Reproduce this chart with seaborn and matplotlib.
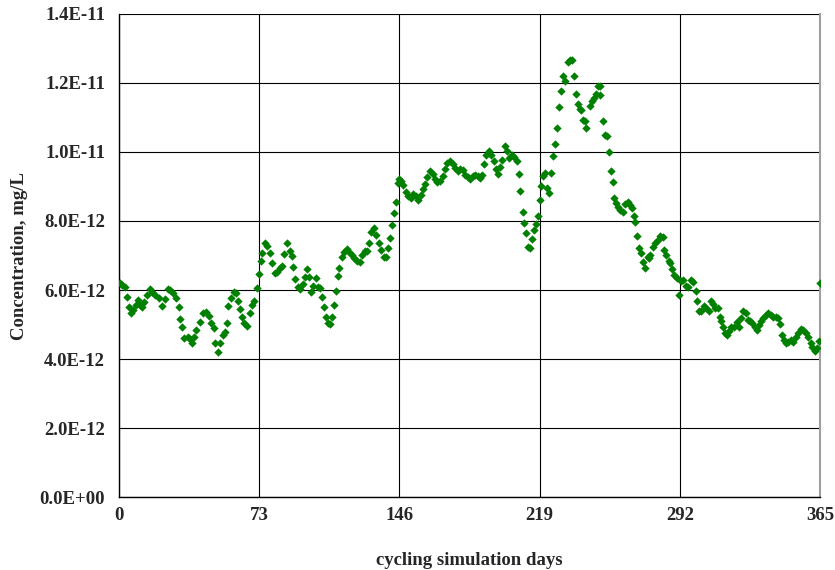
import numpy as np
import pandas as pd
import matplotlib
matplotlib.use("Agg")
import matplotlib.pyplot as plt
import seaborn as sns
from matplotlib.ticker import FuncFormatter

# Simulation days and concentrations (in units of 1E-12 mg/L)
days = [0.5, 1.7, 3, 4, 5.2, 6.4, 7.4, 8.7, 9.9, 11.2, 12, 13, 14.4, 16, 17.3, 19, 20.8, 22.5, 23.7,
        25.4, 26.8, 28, 29.7, 31, 32, 33, 34, 35.8, 37, 38, 39, 40.3, 42, 43.8, 45.3, 46.7, 48,
        49.3, 50, 51.4, 52.8, 54, 55.4, 56.2, 57, 58.3, 59.7, 61, 62, 63, 64, 65.2, 66.6, 68, 69,
        70.4, 71.8, 72.7,
        73.7, 74.7, 76, 77.2, 78.6, 79.8, 81.2, 82.4, 83.8, 85, 86, 87.4, 88.8, 90, 90.8, 91.8, 93,
        94.3, 95.6, 96.9, 98, 99, 99.8, 101, 102.4, 103.5, 104.7, 105.9, 107, 107.8, 108.7, 110,
        110.8, 112, 113, 113.8, 114.8, 116, 117.4, 118.6, 119.9, 121.2, 122.6, 123.8, 125.3, 126.5,
        127.9, 129, 130, 131.2, 132.6, 133.8, 135.2, 136.4, 137.8, 139, 139.9, 141, 142.2, 143.1,
        144, 145.2,
        145.9, 146.7, 148, 149.4, 150.6, 151.9, 153.3, 154.7, 155.9, 157.1, 158.2, 159.4, 160.6, 162,
        163.4, 164.6, 165.8, 167.2, 168.6, 169.8, 171, 172.4, 173.8, 175, 176.3, 177.6, 179, 180.3,
        181.5, 182.9, 184.3, 185.5, 186.8, 188.2, 189, 190, 191.3, 192.6, 193.8, 195.2, 196.5,
        197.2, 198.3, 199.5, 200.9, 202, 203.3, 204.7, 205.9, 207.3, 208.2, 209, 210.2, 211.1,
        212.1, 213, 214.2, 215.1, 216, 217.2, 218, 219,
        219.7, 220.7, 222, 222.8, 224, 225.1, 226, 226.8, 228, 228.9, 229.9, 231, 232, 233.8, 235,
        235.8, 237, 238.1, 238.8, 239.8, 240.7, 241.6, 242.8, 243.3, 245, 246.3, 247.5, 248.5,
        249.2, 250.3, 250.6, 252, 253.2, 254.1, 255, 256.2, 257, 257.9, 258.9, 259.8, 261, 262.2,
        263.6, 264.8, 265.9, 267.1, 268, 268.8, 269.7, 270.7, 271.8, 272.8, 274, 275.2, 276,
        276.7, 277.9, 279.3, 280.5, 281.9, 283.1, 284, 285, 286.3, 287.1, 288, 289.2, 290.3, 291.5,
        292.7, 293.7, 295, 296.2, 297.9, 299, 300.2, 301, 301.9, 303.1, 304.5, 305.9, 307.1, 308,
        309.4, 310.6, 311.8, 312.9, 313.6, 314.6, 315.8, 316.7, 317.6, 318.8, 320.2, 321.6, 322.8,
        324, 325, 326.3, 327.5, 328.5, 329.7, 331, 332, 333.2, 334.4, 335.5, 336.7, 337.9, 339.3,
        340.7, 341.9, 343.1, 344.2, 345.4, 346.3, 347.1, 348.3, 349.7, 351.1, 352.3, 353.6, 354.9,
        356.3, 357.6, 358.8, 360.2, 361, 362.3, 363.3, 364.5, 365]

conc = [6.19, 6.14, 6.08, 5.79, 5.52, 5.32, 5.42, 5.57, 5.71, 5.57, 5.52, 5.66, 5.86, 6.02, 5.95,
        5.86, 5.76, 5.54, 5.73, 6.02, 6.0, 5.9, 5.76, 5.52, 5.15, 4.92, 4.6, 4.65, 4.57, 4.47, 4.65,
        4.84, 5.08, 5.32, 5.37, 5.25, 5.05, 4.89, 4.47, 4.21, 4.47, 4.7, 4.79, 5.03, 5.54, 5.76,
        5.95, 5.9, 5.69, 5.44, 5.23, 5.03, 4.96, 5.32, 5.57, 5.69, 6.05, 6.45,
        6.84, 7.08, 7.37, 7.27, 7.08, 6.77, 6.48, 6.53, 6.63, 6.7, 7.04, 7.37, 7.14, 6.99, 6.68,
        6.32, 6.1, 6.02, 6.17, 6.39, 6.61, 6.39, 5.95, 6.12, 6.34, 6.1, 6.05, 5.79, 5.52, 5.23,
        5.05, 5.01, 5.23, 5.57, 5.97, 6.41, 6.63, 6.95, 7.11, 7.18, 7.11, 7.01, 6.92, 6.85, 6.82,
        7.01, 7.14, 7.13, 7.37, 7.69, 7.79, 7.59, 7.35, 7.16, 6.97, 6.97, 7.21, 7.52, 7.88, 8.22,
        8.56, 9.09,
        9.21, 9.15, 9.05, 8.83, 8.71, 8.66, 8.79, 8.71, 8.61, 8.76, 8.92, 9.07, 9.27, 9.44, 9.37,
        9.21, 9.12, 9.17, 9.29, 9.5, 9.68, 9.75, 9.66, 9.53, 9.44, 9.5, 9.47, 9.34, 9.27, 9.21,
        9.29, 9.34, 9.29, 9.24, 9.34, 9.65, 9.92, 10.04, 9.92, 9.73, 9.5, 9.37, 9.56, 9.78, 10.18,
        10.02, 9.83, 9.92, 9.85, 9.73, 9.36, 8.88, 8.27, 7.93, 7.64, 7.25, 7.23, 7.47, 7.74, 7.91,
        8.14, 8.61,
        9.02, 9.29, 9.39, 8.95, 8.82, 9.39, 9.89, 10.23, 10.69, 11.29, 11.76, 12.19, 12.05, 12.6,
        12.66, 12.68, 12.21, 11.68, 11.4, 11.24, 11.23, 10.94, 10.89, 10.69, 11.34, 11.47, 11.56,
        11.68, 11.92, 11.9, 11.66, 10.89, 10.5, 10.45, 10.0, 9.45, 9.14, 8.66, 8.52, 8.42, 8.32,
        8.27, 8.5, 8.56, 8.47, 8.37, 8.15, 7.98, 7.57, 7.21, 7.06, 6.82, 6.63, 6.97, 6.92,
        7.02, 7.26, 7.36, 7.46, 7.57, 7.55, 7.15, 7.02, 6.83, 6.78, 6.61, 6.44, 6.35, 5.86, 6.25,
        6.3, 6.12, 6.1, 6.3, 6.22, 5.96, 5.67, 5.4, 5.38, 5.54, 5.47, 5.38, 5.67, 5.6, 5.47, 5.47,
        5.23, 5.09, 4.94, 4.75, 4.7, 4.8, 4.94, 4.94, 5.06, 4.94, 5.18, 5.4, 5.33, 5.14, 5.09, 5.04,
        4.94, 4.84, 4.99, 5.09, 5.18, 5.28, 5.33, 5.28, 5.23, 5.23, 5.18, 5.02, 4.7, 4.55, 4.46,
        4.5, 4.55, 4.5, 4.65, 4.75, 4.86, 4.84, 4.75, 4.65, 4.46, 4.36, 4.22, 4.31, 4.53, 6.2]

x_ticks = [0, 73, 146, 219, 292, 365]
y_ticks = [0, 2e-12, 4e-12, 6e-12, 8e-12, 1e-11, 1.2e-11, 1.4e-11]

df = pd.DataFrame({"day": days, "conc": np.array(conc) * 1e-12})

sns.set_style("white")
plt.rcParams['font.family'] = ['Liberation Serif', 'DejaVu Serif']
plt.rcParams['font.weight'] = 'bold'

fig = plt.figure(figsize=(8.35, 5.7), dpi=100)
ax = fig.add_axes([0.1425, 0.128, 0.8395, 0.8475])

sns.scatterplot(data=df, x='day', y='conc', marker='D', s=18, color='#008000',
                linewidth=0, ax=ax, zorder=3)

ax.set_xlim(0, 365)
ax.set_ylim(0, 1.4e-11)
ax.set_xticks(x_ticks)
ax.set_yticks(y_ticks)
ax.yaxis.set_major_formatter(FuncFormatter(lambda v, p: f"{v:.1E}"))
ax.grid(True, color='black', linewidth=0.8)

for s in ['left', 'bottom']:
    ax.spines[s].set_color('black')
    ax.spines[s].set_linewidth(1.0)
ax.spines['right'].set_color('#a0a0a0')
ax.spines['right'].set_linewidth(1.5)
ax.spines['top'].set_visible(False)

ax.tick_params(axis='y', direction='out', length=5, width=0.8, pad=5, labelsize=13.5)
ax.tick_params(axis='x', direction='inout', length=6, width=0.8, pad=4, labelsize=13.5)
for lab in ax.get_xticklabels() + ax.get_yticklabels():
    lab.set_fontweight('bold')

ax.set_xlabel('cycling simulation days', fontsize=13.5, fontweight='bold', labelpad=20)
ax.set_ylabel('Concentration, mg/L', fontsize=13.5, fontweight='bold', labelpad=8)

plt.savefig('out.png', dpi=100)
